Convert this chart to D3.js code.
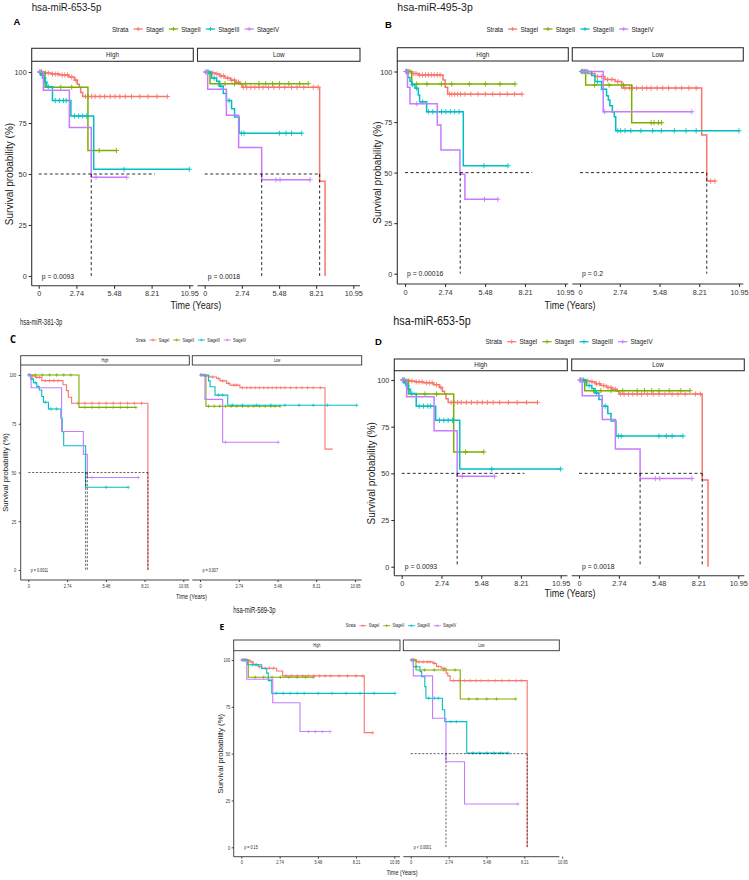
<!DOCTYPE html>
<html><head><meta charset="utf-8">
<script src="https://cdn.jsdelivr.net/npm/d3@7"></script>
<style>body{margin:0;background:#fff}svg{display:block}text{font-family:"Liberation Sans",Arial,sans-serif}</style>
</head><body>
<svg id="c" width="749" height="880"></svg>
<script>
const strata = ["StageI","StageII","StageIII","StageIV"];
const colors = ["#F8766D","#7CAE00","#00BFC4","#C77CFF"];
const facets = ["High","Low"];
const xTicks = [0,2.74,5.48,8.21,10.95];
const xTickLabels = ["0","2.74","5.48","8.21","10.95"];
const yTicks = [0,25,50,75,100];

// rows: [facet, stratum, steps [[time, survival %]], end time, censor times]
const curves653 = [
 ["High","StageI",[[0.2,99.5],[0.9,99],[1.5,98.5],[2.2,97.5],[2.6,96],[2.8,94],[2.95,92.5],[3.05,90],[3.2,88]],9.35,[0.1,0.3,0.5,0.7,1.0,1.2,1.4,1.7,1.9,2.1,2.4,2.7,3.4,3.6,3.85,4.1,4.45,4.8,5.2,5.55,5.9,6.3,6.75,7.35,7.95,8.6,9.35]],
 ["High","StageII",[[0.46,92.5],[3.58,61.5]],5.65,[0.2,1.6,2.4,4.4,5.65]],
 ["High","StageIII",[[0.15,98.5],[0.3,97],[0.45,95],[0.58,92.8],[1.0,86],[2.34,78.4],[4.0,52.3]],10.95,[0.1,0.25,0.4,0.5,0.7,1.2,1.5,1.8,2.0,2.6,2.9,3.2,3.5,6.2,10.95]],
 ["High","StageIV",[[0.34,91],[2.23,72.8],[3.82,48.4]],6.4,[0.05,4.17,6.4]],
 ["Low","StageI",[[0.27,99.5],[0.8,99],[1.1,98],[1.5,97],[1.9,96],[2.3,95],[2.6,94],[2.75,92.5],[8.47,46.5],[8.87,0]],8.87,[0.4,0.6,0.9,1.2,1.4,1.7,2.0,2.2,2.5,2.85,3.1,3.4,3.7,4.0,4.3,4.7,5.1,5.5,5.9,6.4,6.8,7.3,8.0,8.35]],
 ["Low","StageII",[[0.39,94.3]],7.63,[0.2,1.0,1.5,2.2,3.0,4.0,4.5,5.0,5.5,6.2,7.0,7.63]],
 ["Low","StageIII",[[0.5,97],[0.88,95.5],[1.1,93],[1.37,89.5],[1.6,86],[1.98,82],[2.2,78],[2.54,70]],7.15,[0.1,0.3,0.7,1.2,1.8,2.7,2.9,5.5,6.0,6.4,7.15]],
 ["Low","StageIV",[[0.22,91.5],[1.6,78.8],[2.5,63],[4.2,47.2]],7.76,[0.05,5.25,5.55,7.76]]
];
const curves495 = [
 ["High","StageI",[[0.46,99],[0.91,98.3],[2.6,95.8],[2.75,92.2],[2.92,88.8]],8.0,[0.1,0.25,0.35,0.6,0.75,1.0,1.2,1.4,1.6,1.8,2.0,2.2,2.4,3.05,3.2,3.4,3.6,3.8,4.1,4.5,5.0,5.5,6.0,6.5,7.0,7.5,8.0]],
 ["High","StageII",[[0.46,93.8]],7.53,[0.15,0.8,1.5,2.5,3.2,4.4,5.5,6.5,7.53]],
 ["High","StageIII",[[0.2,97],[0.34,95],[0.46,93.5],[0.68,91.7],[0.91,88.4],[1.0,85],[1.48,80.1],[3.99,53.4]],7.05,[0.1,0.5,0.8,1.2,1.6,1.9,2.2,2.5,2.8,3.1,3.4,3.7,5.4,7.05]],
 ["High","StageIV",[[0.17,92.2],[0.34,84],[2.21,73.5],[2.46,61.2],[3.76,49.2],[4.1,36.8]],6.35,[0.05,0.8,5.44,6.35]],
 ["Low","StageI",[[0.57,99],[1.03,97.5],[1.72,96],[2.41,95],[2.87,91.8],[8.38,68.6],[8.73,45.8]],9.3,[0.2,0.4,0.8,1.2,1.5,1.9,2.2,2.6,3.1,3.4,3.6,3.9,4.3,4.6,4.9,5.3,5.7,6.1,6.6,7.0,7.5,8.0,9.0,9.3]],
 ["Low","StageII",[[0.39,93.3],[3.56,74.7]],5.62,[0.2,1.0,2.0,3.0,4.9,5.1,5.4,5.62]],
 ["Low","StageIII",[[0.8,98],[1.03,95],[1.49,91.2],[1.83,88],[1.95,85.9],[2.06,83],[2.23,80],[2.36,77.6],[2.46,70.7]],10.95,[0.1,0.3,0.5,1.2,1.6,2.6,2.8,3.1,3.5,4.2,5.0,5.6,6.5,7.3,8.0,10.95]],
 ["Low","StageIV",[[1.6,80.1]],7.7,[0.4,1.7,7.7]]
];
const curves381 = [
 ["High","StageI",[[0.2,99.5],[0.5,98.8],[0.95,97.1],[2.45,95],[2.7,92],[2.83,88.6],[3.06,85.5],[8.45,0]],8.45,[0.1,0.3,0.6,0.8,1.2,1.5,1.8,2.1,3.5,4.0,4.5,5.0,5.5,6.0,6.5,7.0,7.5,8.0]],
 ["High","StageII",[[3.58,83.4]],7.6,[0.5,1.0,1.5,2.0,2.5,3.0,4.0,4.5,5.0,5.5,6.0,6.5,7.0,7.6]],
 ["High","StageIII",[[0.17,98],[0.36,96],[0.6,94],[0.78,92.3],[0.95,89],[1.07,86],[1.42,82.6],[2.3,77.8],[2.4,70.9],[2.5,63.7],[4.05,42.4]],7.06,[0.05,0.25,0.5,0.7,1.2,1.6,2.0,5.5,7.06]],
 ["High","StageIV",[[0.2,93.5],[2.35,71],[3.89,59.3],[4.17,47.4]],7.77,[0.05,4.5,7.77]],
 ["Low","StageI",[[0.23,99.5],[0.7,99],[1.18,98.2],[1.41,97],[1.88,95.7],[2.12,94.8],[2.82,93.5],[8.83,62]],9.38,[0.1,0.4,0.9,1.3,1.6,2.0,2.4,2.6,3.0,3.3,3.6,3.9,4.2,4.5,4.8,5.1,5.4,5.7,6.0,6.4,6.8,7.2,7.6,8.0,8.5]],
 ["Low","StageII",[[0.42,84]],5.65,[0.6,1.0,1.4,1.8,2.2,2.6,3.0,3.4,3.8,4.2,4.6,5.0,5.3,5.65]],
 ["Low","StageIII",[[0.6,97],[0.71,94],[1.06,89.7],[1.96,84.5]],11.07,[0.1,0.3,1.3,1.6,2.3,3.0,4.0,5.0,6.0,7.0,8.0,9.0,11.07]],
 ["Low","StageIV",[[0.35,87.5],[1.6,65.5]],5.53,[0.05,1.8,5.53]]
];
const curves589 = [
 ["High","StageI",[[0.62,99],[0.86,97.5],[1.22,96.4],[1.46,95.6],[2.53,94.1],[2.96,91.5],[8.8,61.2]],9.4,[0.2,0.4,0.7,1.0,1.3,1.7,2.0,2.3,3.2,3.6,4.0,4.4,4.8,5.2,5.6,6.0,6.4,7.0,7.6,8.2,8.7,9.4]],
 ["High","StageII",[[0.5,90.8]],5.15,[0.2,1.0,1.6,2.2,2.8,3.4,4.0,4.6,5.15]],
 ["High","StageIII",[[0.43,97.5],[1.46,95.5],[1.82,93],[1.93,89],[2.18,82.2]],11.0,[0.1,0.3,0.8,1.1,2.5,3.0,3.5,4.0,4.5,5.5,6.5,7.5,8.5,9.5,11.0]],
 ["High","StageIV",[[0.39,89.7],[2.25,77.2],[4.2,61.8]],6.35,[0.05,4.8,5.3,5.8,6.35]],
 ["Low","StageI",[[0.43,99],[1.62,98.2],[1.86,96.5],[2.2,95.6],[2.56,93],[2.68,91.5],[2.85,89],[8.42,0]],8.42,[0.1,0.3,0.6,0.9,1.2,1.4,1.7,2.0,2.4,3.1,3.5,3.9,4.3,4.7,5.1,5.6,6.1,6.6,7.1,7.6,8.0]],
 ["Low","StageII",[[0.38,94.7],[3.58,79.2]],7.59,[0.2,1.0,1.7,2.4,3.2,4.2,4.8,5.5,6.2,7.59]],
 ["Low","StageIII",[[0.19,96.4],[0.67,93.8],[0.79,91.1],[1.02,85.8],[1.1,79.6],[2.29,73.4],[2.46,67.1],[4.05,50.3]],7.05,[0.1,0.4,1.3,1.7,2.0,2.9,3.3,4.5,5.0,5.5,6.0,6.5,7.05]],
 ["Low","StageIV",[[0.19,91.5],[1.58,68.9],[2.55,45.7],[3.89,23.1]],7.75,[0.05,7.75]]
];
// median lines: [facet, horizontal line end time, vertical line times]
const median653 = [["High",8.45,[3.82]],["Low",8.45,[4.2,8.47]]];
const median495 = [["High",8.7,[3.78]],["Low",8.7,[8.73]]];
const median381 = [["High",8.45,[4.05,4.17,8.45]],["Low",0,[]]];
const median589 = [["High",0,[]],["Low",8.42,[2.55,8.42]]];
const p653 = ["p = 0.0093","p = 0.0018"];
const p495 = ["p = 0.00016","p = 0.2"];
const p381 = ["p = 0.0011","p = 0.007"];
const p589 = ["p = 0.15","p < 0.0001"];

const svg = d3.select("#c");

function T(g, x, y, s, fs, sx, anchor, o) {
  o = o || {};
  const t = g.append("text")
    .attr("transform", `translate(${x},${y})` + (o.rot ? ` rotate(${o.rot})` : "") + ` scale(${sx},1)`)
    .attr("font-size", fs).attr("text-anchor", anchor || "start")
    .attr("fill", o.fill || "#1a1a1a").text(s);
  if (o.bold) t.attr("font-weight", "bold");
  if (o.family) t.style("font-family", o.family);
  if (o.mid) t.attr("dominant-baseline", "central");
  return t;
}
function survAt(steps, t) { let s = 100; for (const [tt, ss] of steps) if (tt <= t) s = ss; return s; }

function drawLegend(g, P) {
  const fs = P.legFs, sx = P.sx;
  const lg = g.append("g");
  let xx = 0;
  const t0 = T(lg, xx, 0, "Strata", fs, sx, "start", {mid: true});
  xx += t0.node().getComputedTextLength() * sx + fs * 0.72;
  strata.forEach((s, i) => {
    const kw = fs * 1.36;
    lg.append("line").attr("x1", xx).attr("x2", xx + kw).attr("y1", 0).attr("y2", 0)
      .attr("stroke", colors[i]).attr("stroke-width", P.lw * 0.8);
    const c = xx + kw / 2, h = P.cz * 0.8;
    lg.append("path").attr("d", `M${c - h},0H${c + h}M${c},${-h}V${h}`).attr("stroke", colors[i]).attr("stroke-width", P.lw * 0.6);
    xx += kw + fs * 0.44;
    const t = T(lg, xx, 0, s, fs, sx, "start", {mid: true});
    xx += t.node().getComputedTextLength() * sx + fs * 0.72;
  });
  const total = xx - fs * 0.72;
  lg.attr("transform", `translate(${P.legCx - total / 2},${P.legY})`);
}

function drawPanel(P) {
  const g = svg.append("g");
  T(g, P.titleX, P.titleY, P.title, P.titleFs, P.sx, "start");
  T(g, P.letX, P.letY, P.letter, P.letFs, P.letSx || 1, "start", {bold: true, family: P.letFam, fill: "#000"});
  drawLegend(g, P);
  const y = d3.scaleLinear().domain([0, 100]).range([P.y0, P.y100]);
  const stripBot = P.stripY + P.stripH;
  // y axis
  const ya = g.append("g").attr("transform", `translate(${P.fx[0][0]},0)`)
    .call(d3.axisLeft(y).tickValues(yTicks).tickSize(P.tick).tickPadding(P.tickPad).tickSizeOuter(0));
  ya.select(".domain").remove();
  ya.selectAll(".tick line").attr("stroke", "#333").attr("stroke-width", P.axW);
  ya.selectAll(".tick text").attr("font-size", P.tickFs).attr("fill", "#333")
    .style("font-family", '"Liberation Sans",Arial,sans-serif')
    .attr("x", -(P.tick + P.tickPad) / P.sx).attr("transform", `scale(${P.sx},1)`);
  g.append("line").attr("x1", P.fx[0][0]).attr("x2", P.fx[0][0]).attr("y1", stripBot).attr("y2", P.xAxisY)
    .attr("stroke", "#333").attr("stroke-width", P.axW);
  T(g, P.yTitleX, (P.y0 + P.y100) / 2, "Survival probability (%)", P.axFs, 1, "middle", {mid: true, rot: -90});
  T(g, P.xTitleX, P.xTitleY, "Time (Years)", P.axFs, P.sx, "middle", {mid: true});

  facets.forEach((f, fi) => {
    const [fx1, fx2] = P.fx[fi];
    const x = d3.scaleLinear().domain([0, 10.95]).range(P.x0[fi]);
    g.append("rect").attr("x", fx1).attr("y", P.stripY).attr("width", fx2 - fx1).attr("height", P.stripH)
      .attr("fill", "#fff").attr("stroke", "#333").attr("stroke-width", P.axW);
    T(g, (fx1 + fx2) / 2, P.stripY + P.stripH / 2, f, P.stripFs, P.sx, "middle", {mid: true});
    const xa = g.append("g").attr("transform", `translate(0,${P.xAxisY})`)
      .call(d3.axisBottom(x).tickValues(xTicks).tickFormat((d, i) => xTickLabels[i]).tickSize(P.tick).tickPadding(P.tickPad).tickSizeOuter(0));
    xa.select(".domain").remove();
    xa.selectAll(".tick line").attr("stroke", "#333").attr("stroke-width", P.axW);
    xa.selectAll(".tick text").attr("font-size", P.tickFs).attr("fill", "#333")
      .style("font-family", '"Liberation Sans",Arial,sans-serif').attr("transform", `scale(${P.sx},1)`);
    g.append("line").attr("x1", fx1).attr("x2", fx2).attr("y1", P.xAxisY).attr("y2", P.xAxisY)
      .attr("stroke", "#333").attr("stroke-width", P.axW);

    const cg = g.append("g");
    P.curves.filter(r => r[0] === f).forEach(r => {
      const ci = strata.indexOf(r[1]);
      const steps = r[2], end = r[3];
      let d = `M${x(0)},${y(100)}`;
      let prev = 100;
      steps.forEach(([t, s]) => { d += `H${x(t)}V${y(s)}`; prev = s; });
      d += `H${x(end)}`;
      cg.append("path").attr("d", d).attr("fill", "none").attr("stroke", colors[ci])
        .attr("stroke-width", P.lw).attr("stroke-linejoin", "miter");
      r[4].forEach(t => {
        const cx = x(t), cy = y(survAt(steps, t)), h = P.cz;
        cg.append("path").attr("d", `M${cx - h},${cy}H${cx + h}M${cx},${cy - h}V${cy + h}`)
          .attr("stroke", colors[ci]).attr("stroke-width", P.lw * 0.6);
      });
    });
    const m = P.med.find(r => r[0] === f);
    if (m && m[1] > 0) {
      g.append("line").attr("x1", x(0)).attr("x2", x(m[1])).attr("y1", y(50)).attr("y2", y(50))
        .attr("stroke", "#000").attr("stroke-width", P.lw * 0.55).attr("stroke-dasharray", P.dash);
      m[2].forEach(v => {
        g.append("line").attr("x1", x(v)).attr("x2", x(v)).attr("y1", y(50)).attr("y2", y(0))
          .attr("stroke", "#000").attr("stroke-width", P.lw * 0.55).attr("stroke-dasharray", P.dash);
      });
    }
    T(g, x(0) + P.pDx, y(0), P.p[fi], P.pFs, P.sx, "start", {mid: true});
  });
}

const layouts = [
 {title:"hsa-miR-653-5p", curves:curves653, med:median653, p:p653, titleX:31.7, titleY:11, titleFs:10.8, sx:0.9,
  letter:"A", letX:13.5, letY:25.3, letFs:9.5, legCx:195.5, legY:29, legFs:6.9, stripY:48.3, stripH:13, stripFs:7,
  fx:[[31.7,193.3],[197.5,360]], x0:[[38.7,189.3],[204.7,353.3]], y100:72, y0:276, xAxisY:285.7,
  tickFs:8.1, tick:3, tickPad:2, xTitleX:195.8, xTitleY:305, yTitleX:9.5, axFs:10, pFs:7.6, pDx:3, lw:1.5, cz:2.6, axW:1.1, dash:"3,2.5"},
 {title:"hsa-miR-495-3p", curves:curves495, med:median495, p:p495, titleX:397.3, titleY:11.3, titleFs:11.7, sx:0.9,
  letter:"B", letX:385, letY:28.3, letFs:9.5, legCx:570, legY:29, legFs:6.9, stripY:47.7, stripH:13.3, stripFs:7,
  fx:[[397.3,568.3],[572.3,743.3]], x0:[[405,565],[580,739]], y100:71.5, y0:273.7, xAxisY:284,
  tickFs:8.1, tick:3, tickPad:2, xTitleX:570, xTitleY:305, yTitleX:377, axFs:10, pFs:7.6, pDx:2, lw:1.5, cz:2.6, axW:1.1, dash:"3,2.5"},
 {title:"hsa-miR-381-3p", curves:curves381, med:median381, p:p381, titleX:20, titleY:324.5, titleFs:8.3, sx:0.71,
  letter:"C", letX:10, letY:342.7, letFs:10.5, letFam:'"Open Sans",sans-serif', letSx:0.9, legCx:191, legY:340, legFs:5.2, stripY:355.7, stripH:9.3, stripFs:4.8,
  fx:[[20.7,189.3],[192.3,361.7]], x0:[[28.3,183.3],[200,355]], y100:375, y0:570, xAxisY:580,
  tickFs:5.6, tick:2, tickPad:2.5, xTitleX:191.5, xTitleY:595.7, yTitleX:5, axFs:7.7, pFs:5.2, pDx:2.5, lw:1.1, cz:1.8, axW:0.9, dash:"2.2,1.6"},
 {title:"hsa-miR-653-5p", curves:curves653, med:median653, p:p653, titleX:393.3, titleY:325, titleFs:12, sx:0.9,
  letter:"D", letX:375, letY:345, letFs:9.5, legCx:569, legY:341.7, legFs:6.9, stripY:359, stripH:11.7, stripFs:7,
  fx:[[394.3,567.3],[571.7,744.3]], x0:[[401.7,560.7],[579,738.3]], y100:380, y0:566.7, xAxisY:575.7,
  tickFs:8.1, tick:3, tickPad:2, xTitleX:570, xTitleY:593, yTitleX:371, axFs:10, pFs:7.6, pDx:3, lw:1.5, cz:2.6, axW:1.1, dash:"3,2.5"},
 {title:"hsa-miR-589-3p", curves:curves589, med:median589, p:p589, titleX:233.3, titleY:613, titleFs:8.3, sx:0.71,
  letter:"E", letX:219.5, letY:630, letFs:9.5, letFam:'"Open Sans",sans-serif', letSx:0.9, legCx:401, legY:625.7, legFs:5.2, stripY:640, stripH:10.7, stripFs:4.8,
  fx:[[233.7,400],[403.3,559.3]], x0:[[241.3,394.3],[410.7,562.2]], y100:660, y0:847.3, xAxisY:856.7,
  tickFs:5.6, tick:2, tickPad:1.5, xTitleX:402, xTitleY:871.7, yTitleX:220, axFs:7.8, pFs:5.2, pDx:3, lw:1.1, cz:1.8, axW:0.9, dash:"2.2,1.6"}
];
layouts.forEach(drawPanel);
</script>
</body></html>
